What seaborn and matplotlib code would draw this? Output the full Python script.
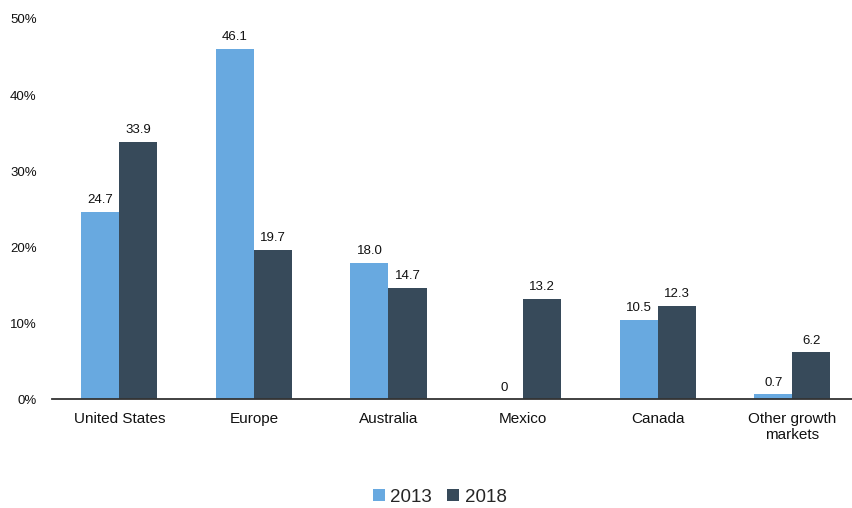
import pandas as pd
import seaborn as sns
import matplotlib.pyplot as plt
from matplotlib.ticker import FuncFormatter

sns.set_theme(style="white")
plt.rcParams['font.family'] = ['Liberation Sans', 'DejaVu Sans']

regions = ['United States', 'Europe', 'Australia', 'Mexico', 'Canada', 'Other growth\nmarkets']
share_2013 = [24.7, 46.1, 18.0, 0.0, 10.5, 0.7]
share_2018 = [33.9, 19.7, 14.7, 13.2, 12.3, 6.2]
labels_2013 = ['24.7', '46.1', '18.0', '0', '10.5', '0.7']
labels_2018 = ['33.9', '19.7', '14.7', '13.2', '12.3', '6.2']

df = pd.DataFrame({
    'region': regions * 2,
    'year': ['2013'] * 6 + ['2018'] * 6,
    'value': share_2013 + share_2018,
})

fig = plt.figure(figsize=(8.53, 5.08), dpi=100)
ax = fig.add_axes([52 / 853, 0.2136, 801 / 853, 0.749])

sns.barplot(data=df, x='region', y='value', hue='year',
            palette=['#68A9E0', '#374A5A'], width=0.565, gap=0,
            saturation=1, linewidth=0, ax=ax, legend=True)

for cont, labs in zip(ax.containers, [labels_2013, labels_2018]):
    ax.bar_label(cont, labels=labs, padding=4, fontsize=9.5, color='#111111')

ax.set_xlim(-0.5, 5.451)
ax.set_ylim(0, 50)
ax.set_yticks(range(0, 51, 10))
ax.yaxis.set_major_formatter(FuncFormatter(lambda v, p: f'{v:.0f}%'))
ax.set_xlabel('')
ax.set_ylabel('')
ax.tick_params(axis='x', length=0, pad=9, labelsize=11, labelcolor='#111111')
ax.tick_params(axis='y', length=0, pad=11, labelsize=9.5, labelcolor='#111111')

for side in ['top', 'right', 'left']:
    ax.spines[side].set_visible(False)
ax.spines['bottom'].set_color('#333333')
ax.spines['bottom'].set_linewidth(1.3)

ax.legend(loc='center', bbox_to_anchor=(0.484, -0.257), ncol=2, frameon=False,
          fontsize=13.5, handlelength=0.65, handleheight=0.65, handletextpad=0.3,
          columnspacing=0.8)

fig.savefig('out.png', dpi=100)
